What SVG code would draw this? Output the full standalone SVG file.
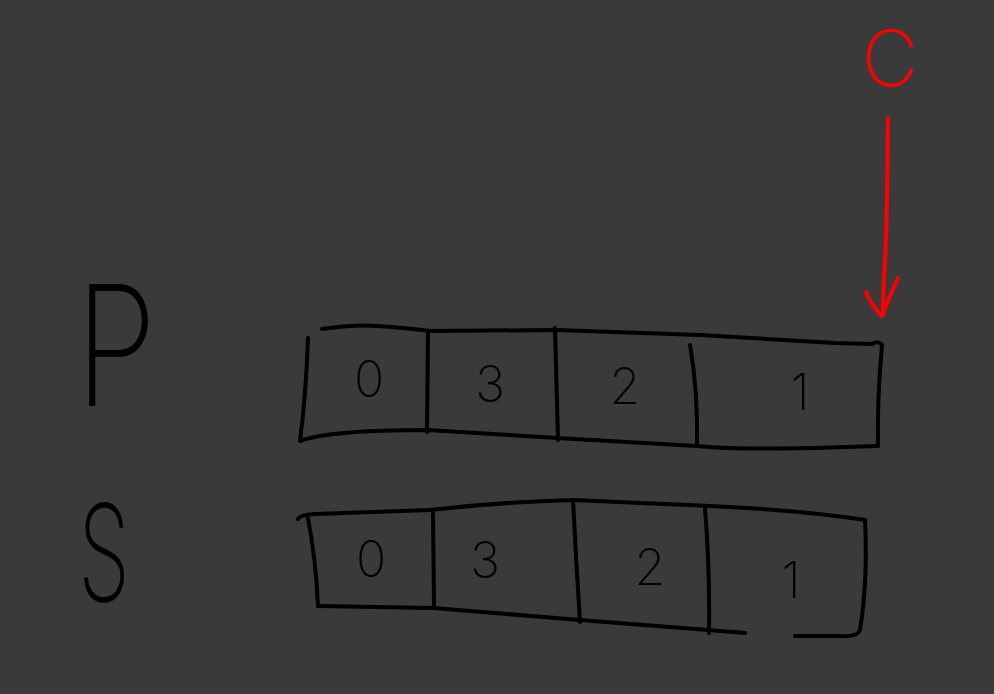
<svg xmlns="http://www.w3.org/2000/svg" width="994" height="694" viewBox="0 0 994 694">
<style>
.ink{fill:none;stroke:#000;stroke-width:4;stroke-linecap:round;stroke-linejoin:round}
.red{fill:none;stroke:#ff0000;stroke-width:4;stroke-linecap:round;stroke-linejoin:round}
.digit{font-family:Inter,"DejaVu Sans",sans-serif;font-weight:200;font-size:50px;fill:#000;text-anchor:middle}
.big{font-family:Inter,"DejaVu Sans",sans-serif;font-weight:200;fill:#000;text-anchor:middle}
</style>
<rect width="994" height="694" fill="#3a3a3a"/>
<g id="label-p"><text class="big" x="0" y="406" font-size="168" transform="translate(116 0) scale(0.78 1)">P</text></g>
<g id="label-s"><text class="big" x="0" y="601" font-size="134" transform="translate(104 0) scale(0.62 1)">S</text></g>
<g id="label-c"><text class="big" x="890" y="86" font-size="78" style="fill:#ff0000">C</text></g>
<g id="array-p">
<path class="ink" d="M322 329 Q350 324 378 326 T430 331 L557 330 L700 335 L835 343 L872 344 Q878 340 882 345"/>
<path class="ink" d="M308 338 Q306 395 300 441"/>
<path class="ink" d="M882 345 Q877 400 878 446"/>
<path class="ink" d="M300 441 Q330 430 427 430 L557 438 L697 446 Q740 451 878 446"/>
<path class="ink" d="M428 331 L427 432"/>
<path class="ink" d="M555 328 L558 440"/>
<path class="ink" d="M690 345 Q698 390 697 446"/>
<text class="digit" x="369" y="397">0</text>
<text class="digit" x="490" y="402">3</text>
<text class="digit" x="625" y="404">2</text>
<text class="digit" x="800" y="410">1</text>
</g>
<g id="array-s">
<path class="ink" d="M298 519 Q300 515 315 514 L430 510 Q500 502 573 500 L710 506 Q800 510 865 520"/>
<path class="ink" d="M308 518 Q316 560 318 606"/>
<path class="ink" d="M865 520 Q868 580 860 630 Q858 637 840 636 L795 636"/>
<path class="ink" d="M318 606 L433 608 L580 620 L708 630 L745 633"/>
<path class="ink" d="M433 513 L434 605"/>
<path class="ink" d="M573 500 Q576 560 580 622"/>
<path class="ink" d="M705 508 Q710 570 709 633"/>
<text class="digit" x="371" y="577">0</text>
<text class="digit" x="485" y="578">3</text>
<text class="digit" x="650" y="585">2</text>
<text class="digit" x="791" y="598">1</text>
</g>
<g id="connectors">
<path class="red" d="M888 118 Q887 230 885 260 Q883 295 883 315"/>
<path class="red" d="M866 292 Q872 306 882 316 Q888 300 898 278"/>
</g>
</svg>
